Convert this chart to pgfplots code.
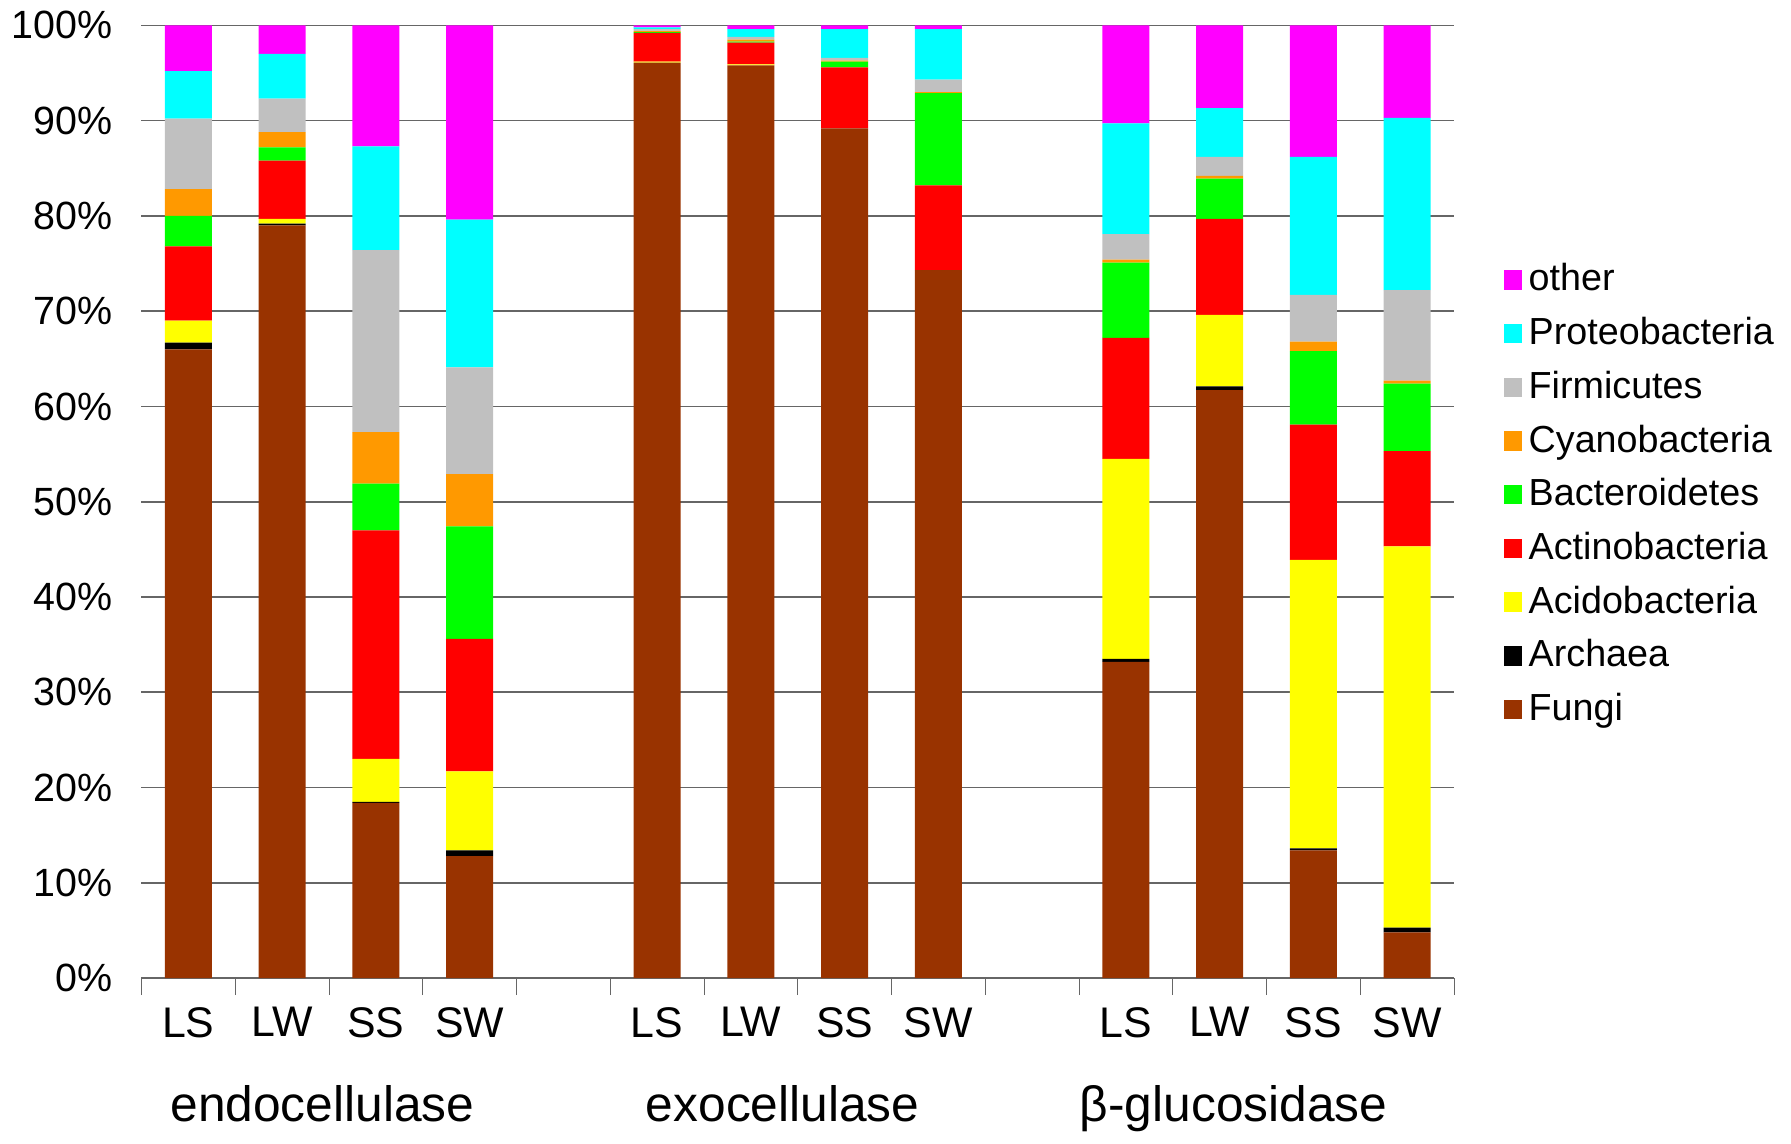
\documentclass[border=0pt]{standalone}
\usepackage{pgfplots}
\usepackage{pgfplotstable}
\usepackage{fontspec}
\setmainfont{Liberation Sans}
\pgfplotsset{compat=1.18}
\definecolor{cF}{HTML}{993300}
\definecolor{cAc}{HTML}{FFFF00}
\definecolor{cAt}{HTML}{FF0000}
\definecolor{cB}{HTML}{00FF00}
\definecolor{cC}{HTML}{FF9900}
\definecolor{cFi}{HTML}{C0C0C0}
\definecolor{cP}{HTML}{00FFFF}
\definecolor{cO}{HTML}{FF00FF}
\pgfplotstableread{
x F Ar Ac At B C Fi P O
0 66 0.7 2.3 7.8 3.2 2.8 7.4 5.0 4.8
1 79 0.2 0.5 6.1 1.4 1.6 3.5 4.7 3.0
2 18.4 0.1 4.5 24 4.9 5.4 19.1 10.9 12.7
3 12.8 0.6 8.3 13.9 11.8 5.5 11.2 15.5 20.4
5 96.1 0 0.1 3.0 0.1 0.1 0.2 0.2 0.2
6 95.8 0 0.1 2.3 0.1 0.2 0.3 0.8 0.4
7 89.2 0 0 6.4 0.6 0.1 0.3 3.0 0.4
8 74.3 0 0 8.9 9.7 0.1 1.3 5.3 0.4
10 33.2 0.3 21.0 12.7 7.9 0.3 2.7 11.6 10.3
11 61.7 0.4 7.5 10.1 4.2 0.3 2.0 5.1 8.7
12 13.4 0.2 30.3 14.2 7.7 1.0 4.9 14.5 13.8
13 4.8 0.5 40.0 10.0 7.1 0.3 9.5 18.1 9.7
}\data
\begin{document}
\begin{tikzpicture}
\begin{axis}[
  scale only axis, width=383pt, height=278pt,
  ybar stacked, bar width=0.5,
  xmin=-0.5, xmax=13.5, ymin=0, ymax=100,
  ytick={0,10,...,100}, yticklabel={\pgfmathprintnumber{\tick}\%},
  ymajorgrids, grid style={gray!80!black, line width=0.5pt},
  axis x line=bottom, axis y line=left,
  y axis line style={draw=none}, x axis line style={-, gray!80!black},
  ytick style={draw=none},
  xtick={-0.5,0.5,...,13.5}, xticklabels={},
  xtick style={gray!80!black}, tick align=outside, major tick length=5pt,
  extra x ticks={0,1,2,3,5,6,7,8,10,11,12,13},
  extra x tick labels={LS,LW,SS,SW,LS,LW,SS,SW,LS,LW,SS,SW},
  extra x tick style={major tick length=0pt, tick label style={yshift=-5pt, font=\fontsize{12.5}{14}\selectfont}},
  yticklabel style={font=\fontsize{11.5}{13}\selectfont},
  /pgf/number format/assume math mode=true,
  clip=false,
  legend style={at={(1.03,0.765)}, anchor=north west, draw=none, fill=none,
    font=\fontsize{11}{13}\selectfont, row sep=2.2pt},
  legend cell align=left, reverse legend,
  legend image code/.code={\fill[#1] (0cm,-0.1cm) rectangle (0.18cm,0.1cm);},
]
\addplot[fill=cF, draw=none] table[x=x,y=F]{\data};
\addlegendentry{Fungi}
\addplot[fill=black, draw=none] table[x=x,y=Ar]{\data};
\addlegendentry{Archaea}
\addplot[fill=cAc, draw=none] table[x=x,y=Ac]{\data};
\addlegendentry{Acidobacteria}
\addplot[fill=cAt, draw=none] table[x=x,y=At]{\data};
\addlegendentry{Actinobacteria}
\addplot[fill=cB, draw=none] table[x=x,y=B]{\data};
\addlegendentry{Bacteroidetes}
\addplot[fill=cC, draw=none] table[x=x,y=C]{\data};
\addlegendentry{Cyanobacteria}
\addplot[fill=cFi, draw=none] table[x=x,y=Fi]{\data};
\addlegendentry{Firmicutes}
\addplot[fill=cP, draw=none] table[x=x,y=P]{\data};
\addlegendentry{Proteobacteria}
\addplot[fill=cO, draw=none] table[x=x,y=O]{\data};
\addlegendentry{other}
\node[font=\fontsize{14.5}{16}\selectfont, anchor=base] at (axis cs:1.43,0) [yshift=-42pt] {endocellulase};
\node[font=\fontsize{14.5}{16}\selectfont, anchor=base] at (axis cs:6.34,0) [yshift=-42pt] {exocellulase};
\node[font=\fontsize{14.5}{16}\selectfont, anchor=base] at (axis cs:11.15,0) [yshift=-42pt] {β-glucosidase};
\end{axis}
\end{tikzpicture}
\end{document}
